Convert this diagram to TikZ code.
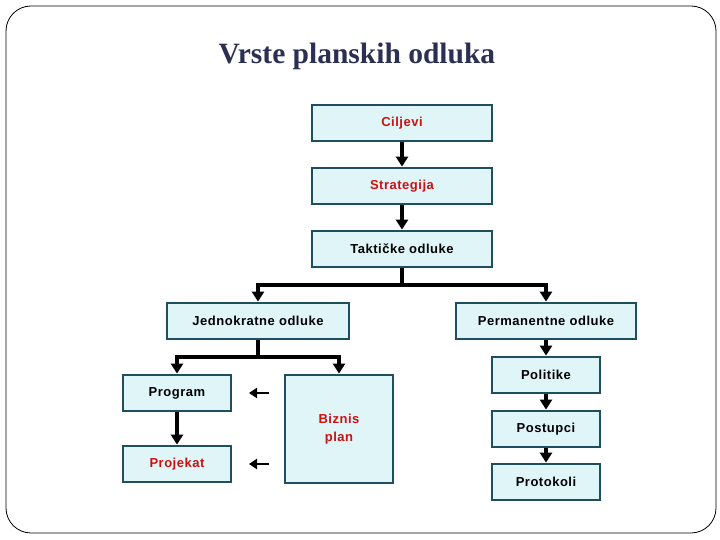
\documentclass[tikz,border=0pt]{standalone}
\usepackage{fontspec}
\setmainfont{Liberation Sans}[LetterSpace=4]
\newfontfamily\titlefont{Liberation Serif}
\usetikzlibrary{arrows.meta}
\definecolor{boxfill}{HTML}{DFF5F8}
\definecolor{boxline}{HTML}{1F4E5F}
\definecolor{txtred}{HTML}{CC1111}
\definecolor{titlecol}{HTML}{2B2F52}
\tikzset{
  box/.style={draw=boxline, fill=boxfill, line width=2.8pt, inner sep=0pt,
    font=\fontsize{13}{18}\selectfont\bfseries, align=center},
  redtxt/.style={text=txtred},
  conn/.style={line width=3.2pt, -{Triangle[width=12pt,length=10pt]}},
  plain/.style={line width=3.2pt},
}
\begin{document}
\begin{tikzpicture}[x=1pt,y=-1pt]
\useasboundingbox (0,0) rectangle (720,540);
\draw[line width=0.8pt, rounded corners=25pt] (6,6) rectangle (716,533);
\node[font=\titlefont\fontsize{29.5}{32}\selectfont\bfseries, text=titlecol] (title) at (357,56) {Vrste planskih odluka};

\node[box, redtxt, minimum width=180pt, minimum height=36pt] (cilj) at (402,123) {Ciljevi};
\node[box, redtxt, minimum width=180pt, minimum height=36pt] (strat) at (402,186) {Strategija};
\node[box, minimum width=180pt, minimum height=36pt] (takt) at (402,249) {Taktičke odluke};
\node[box, minimum width=182pt, minimum height=36pt] (jedn) at (258,321) {Jednokratne odluke};
\node[box, minimum width=180pt, minimum height=36pt] (perm) at (546,321) {Permanentne odluke};
\node[box, minimum width=108pt, minimum height=36pt] (pol) at (546,375) {Politike};
\node[box, minimum width=108pt, minimum height=36pt] (post) at (546,429) {Postupci};
\node[box, minimum width=108pt, minimum height=36pt] (prot) at (546,482) {Protokoli};
\node[box, minimum width=108pt, minimum height=36pt] (prog) at (177,393) {Program};
\node[box, redtxt, minimum width=108pt, minimum height=36pt] (proj) at (177,464) {Projekat};
\node[box, redtxt, minimum width=108pt, minimum height=108pt] (biz) at (339,429) {Biznis\\plan};

\draw[conn] (cilj) -- (strat);
\draw[conn] (strat) -- (takt);
\coordinate (t1) at (402,285);
\coordinate (t2) at (258,285);
\coordinate (t3) at (546,285);
\draw[plain] (takt.south) -- (t1);
\draw[plain, line cap=rect] (t2) -- (t3);
\draw[conn] (t2) -- (jedn.north);
\draw[conn] (t3) -- (perm.north);

\coordinate (j1) at (258,357);
\coordinate (j2) at (177,357);
\coordinate (j3) at (339,357);
\draw[plain] (jedn.south) -- (j1);
\draw[plain, line cap=rect] (j2) -- (j3);
\draw[conn] (j2) -- (prog.north);
\draw[conn] (j3) -- (biz.north);
\draw[conn] (prog) -- (proj);

\draw[conn] (perm) -- (pol);
\draw[conn] (pol) -- (post);
\draw[conn] (post) -- (prot);

\coordinate (a1s) at (269,393);
\coordinate (a1e) at (249,393);
\coordinate (a2s) at (269,464);
\coordinate (a2e) at (249,464);
\draw[line width=2.8pt, -{Triangle[width=10pt,length=8pt]}] (a1s) -- (a1e);
\draw[line width=2.8pt, -{Triangle[width=10pt,length=8pt]}] (a2s) -- (a2e);
\end{tikzpicture}
\end{document}
